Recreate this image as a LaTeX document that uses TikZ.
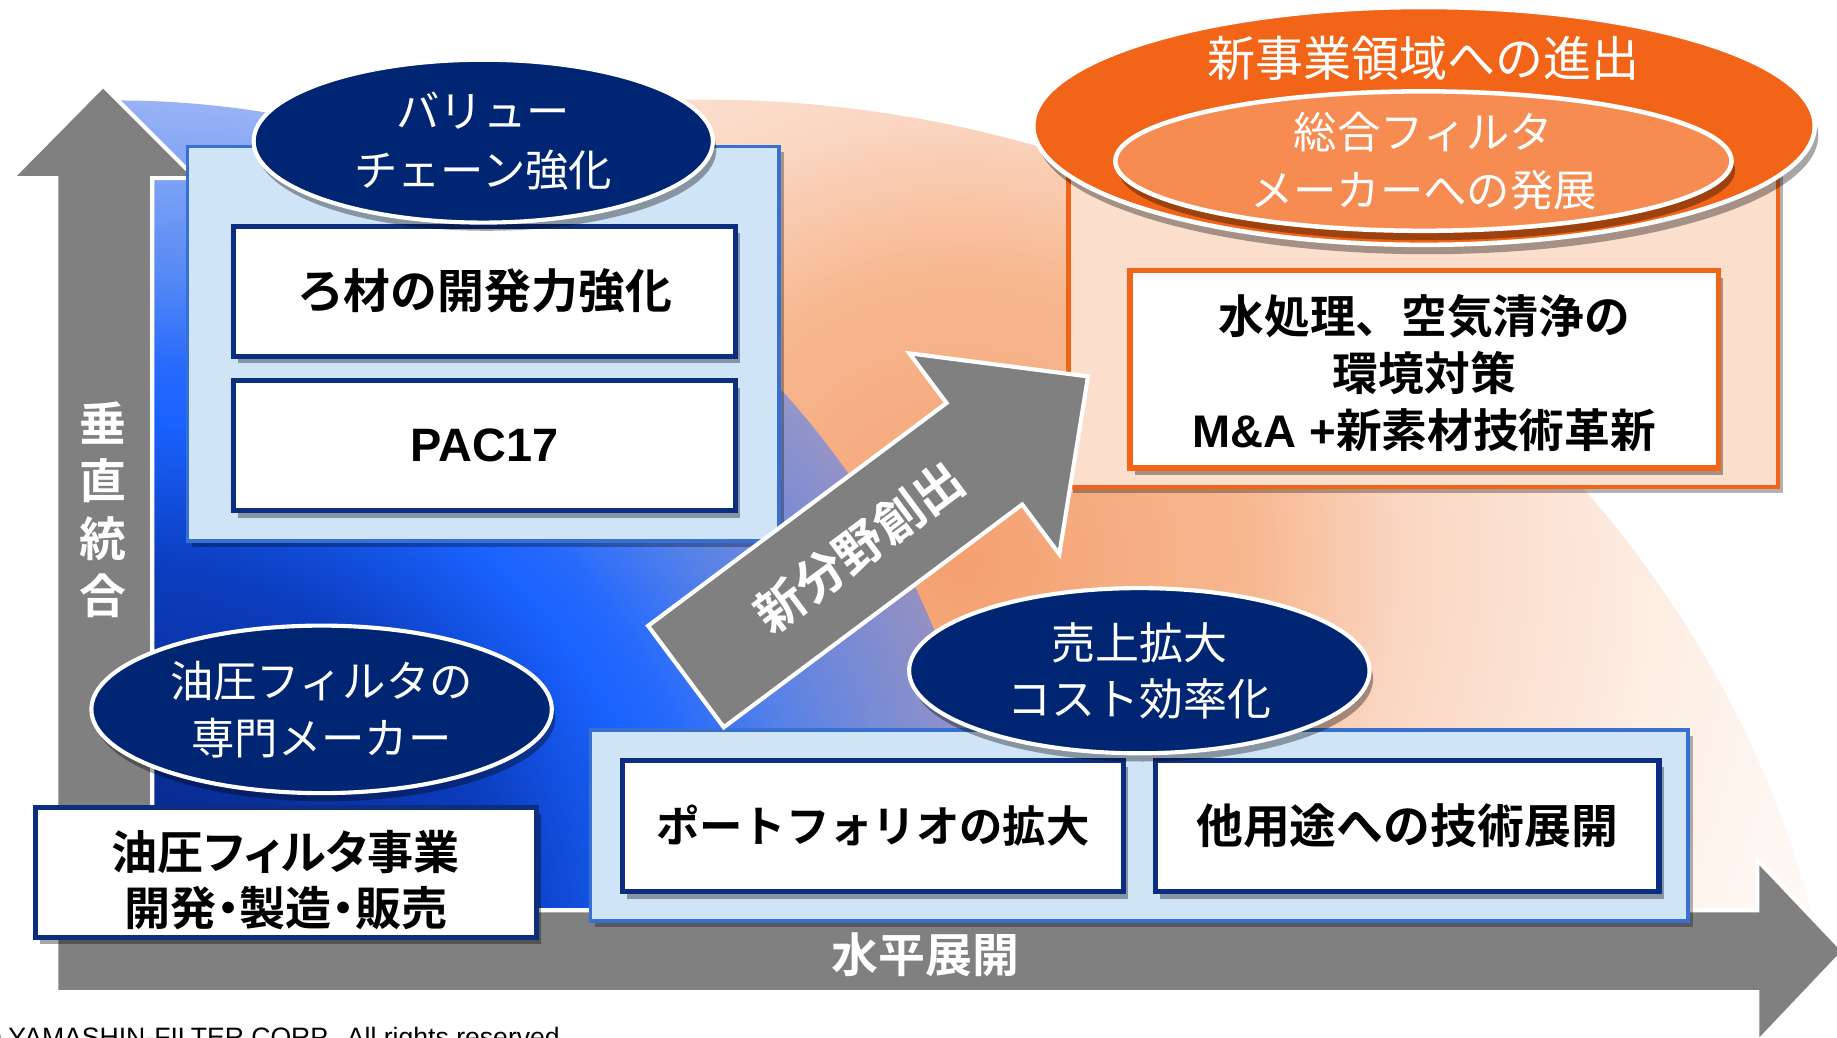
\documentclass[tikz,border=0pt]{standalone}
\usepackage{fontspec}
\setmainfont{Noto Sans CJK JP}[BoldFont={Noto Sans CJK JP Bold}]
\newfontfamily\latf{Liberation Sans}
\usetikzlibrary{shadows,fadings,shapes.geometric}
\newcommand\fsz[2]{\fontsize{#1pt}{#2pt}\selectfont}
\definecolor{navy}{RGB}{0,38,115}
\definecolor{boxnavy}{RGB}{12,46,128}
\definecolor{panelfill}{RGB}{208,228,248}
\definecolor{panelline}{RGB}{55,112,208}
\definecolor{orgA}{RGB}{242,100,24}
\definecolor{orgB}{RGB}{246,140,82}
\definecolor{peachfill}{RGB}{252,222,204}
\definecolor{orgline}{RGB}{240,100,26}
\definecolor{arrgray}{RGB}{128,128,128}
\definecolor{bq1}{RGB}{8,34,120}
\definecolor{bq2}{RGB}{11,60,188}
\definecolor{bq3}{RGB}{26,98,255}
\definecolor{bq4}{RGB}{62,122,246}
\definecolor{bq5}{RGB}{90,132,240}
\definecolor{pc1}{RGB}{244,160,112}
\definecolor{pc2}{RGB}{247,184,144}
\definecolor{pc3}{RGB}{250,214,194}
\definecolor{pc4}{RGB}{253,238,228}
\definecolor{pc5}{RGB}{254,246,241}
\pgfdeclareradialshading{blueq}{\pgfpointorigin}{color(0bp)=(bq1); color(11bp)=(bq2); color(15.5bp)=(bq3); color(20bp)=(bq4); color(25bp)=(bq5); color(50bp)=(bq5)}
\pgfdeclareradialshading{peachq}{\pgfpointorigin}{color(0bp)=(pc1); color(6.94bp)=(pc2); color(10.56bp)=(pc3); color(16.67bp)=(pc4); color(20bp)=(pc5); color(25bp)=(white); color(50bp)=(white)}
\pgfdeclareradialshading{bfadeshade}{\pgfpointorigin}{color(0bp)=(white); color(17bp)=(white); color(28.45bp)=(black!55); color(50bp)=(black!55)}
\pgfdeclarefading{bluefade}{\pgfuseshading{bfadeshade}}
\tikzset{
  panelb/.style={draw=panelline, line width=0.9pt, fill=panelfill, inner sep=0,
    drop shadow={shadow xshift=0.4mm, shadow yshift=-0.5mm, opacity=0.3, fill=black}},
  boxb/.style={draw=boxnavy, line width=1.25pt, fill=white, text=black, align=center, inner sep=0,
    drop shadow={shadow xshift=0.4mm, shadow yshift=-0.6mm, opacity=0.35, fill=black}},
  navyell/.style={ellipse, draw=white, line width=1pt, fill=navy, text=white, align=center, inner sep=0,
    drop shadow={shadow xshift=0.3mm, shadow yshift=-0.7mm, opacity=0.35, fill=black}},
  orgell/.style={ellipse, draw=white, line width=1.1pt, text=white, align=center, inner sep=0,
    drop shadow={shadow xshift=0.3mm, shadow yshift=-0.8mm, opacity=0.35, fill=black}},
  arrowshape/.style={draw=white, line width=1pt, fill=arrgray, line join=miter},
  wlabel/.style={text=white, align=center, inner sep=0},
  blabel/.style={text=black, align=center, inner sep=0}
}
\begin{document}
\begin{tikzpicture}[x=0.1mm,y=-0.1mm]
\useasboundingbox (0,0) rectangle (1568,886);
\fill[white] (0,0) rectangle (1568,886);
% peach background
\begin{scope}
  \clip (100,0) rectangle (1568,777);
  \clip (600,1000) ellipse [x radius=975, y radius=915];
  \shade[shading=peachq] (820,480) circle [radius=900];
\end{scope}
% blue background
\begin{scope}
  \clip (100,0) rectangle (1568,777);
  \shade[shading=blueq, path fading=bluefade] (100,800) ellipse [x radius=751, y radius=715];
\end{scope}
% axis arrows
\draw[arrowshape] (48,847) -- (48,152) -- (10,152) -- (88,73) -- (167,152) -- (130,152) -- (130,777)
  -- (1500,777) -- (1500,734) -- (1574,812) -- (1500,890) -- (1500,847) -- cycle;
% top-left group
\node[panelb, minimum width=50.5mm, minimum height=33.7mm] (pTL) at (412.5,293.5) {};
\node[boxb, minimum width=42.9mm, minimum height=11.1mm, font=\bfseries\fsz{11.38}{13.94}] (bRozai) at (413.5,248.5) {ろ材の開発力強化};
\node[boxb, minimum width=42.9mm, minimum height=11.1mm, font=\latf\bfseries\fsz{11.38}{13.94}] (bPAC) at (413.5,380.5) {PAC17};
\node[navyell, minimum width=39.2mm, minimum height=13.9mm, font=\fsz{10.53}{14.1}] (eValue) at (412.5,120.5) {バリュー\\チェーン強化};
% bottom-left group
\node[boxb, minimum width=42.8mm, minimum height=11.1mm] (bYuatsu) at (244,744.5) {};
\node[blabel, font=\bfseries\fsz{11.2}{13.66}\addfontfeature{RawFeature=+palt}] (tYuatsu) at (244,751) {油圧フィルタ事業\\開発・製造・販売};
\node[navyell, minimum width=39.3mm, minimum height=14.3mm, font=\fsz{10.53}{13.94}] (eYuatsu) at (274.5,605.5) {油圧フィルタの\\専門メーカー};
% bottom group
\node[panelb, minimum width=93.7mm, minimum height=16.3mm] (pBot) at (972.5,704.5) {};
\node[boxb, minimum width=42.8mm, minimum height=11.2mm, font=\bfseries\fsz{10.53}{13.94}] (bPort) at (745,705) {ポートフォリオの拡大};
\node[boxb, minimum width=43.0mm, minimum height=11.2mm, font=\bfseries\fsz{11.38}{13.94}] (bTa) at (1201,705) {他用途への技術展開};
\node[navyell, minimum width=39.3mm, minimum height=14.1mm, font=\fsz{10.67}{13.66}] (eUri) at (972.5,572.5) {売上拡大\\コスト効率化};
% top-right group
\node[draw=orgline, line width=1pt, fill=peachfill, inner sep=0, minimum width=60.6mm, minimum height=27.1mm,
  drop shadow={shadow xshift=0.4mm, shadow yshift=-0.5mm, opacity=0.3, fill=black}] (pOrg) at (1215,280.5) {};
\node[boxb, draw=orgA, minimum width=50.25mm, minimum height=16.85mm] (bMizu) at (1215.75,315.25) {};
\node[blabel, font=\bfseries\fsz{11.1}{13.94}] (tMizu) at (1215.75,318.5) {水処理、空気清浄の\\環境対策\\{\latf\bfseries M\&A +}新素材技術革新};
\node[orgell, fill=orgA, minimum width=66.7mm, minimum height=20.3mm] (eShin) at (1215.5,107.5) {};
\node[wlabel, font=\fsz{11.67}{14}] (tShin) at (1215,50) {新事業領域への進出};
\node[orgell, fill=orgB, minimum width=52.6mm, minimum height=11.5mm, font=\fsz{10.53}{14.2}] (eSogo) at (1215,137.5) {総合フィルタ\\メーカーへの発展};
% diagonal arrow
\draw[arrowshape] (553.2,534.2) -- (807.9,344.0) -- (776.2,301.6) -- (928.7,321.3) -- (904.2,473.0) -- (872.5,430.6) -- (617.8,620.8) -- cycle;
\node[wlabel, rotate=36.7, font=\bfseries\fsz{11.95}{14}] (tShinbun) at (733.7,466.9) {新分野創出};
% axis labels
\node[wlabel, font=\bfseries\fsz{11.38}{13.94}] (tSuichoku) at (88,435) {垂\\直\\統\\合};
\node[wlabel, font=\bfseries\fsz{11.38}{13.94}] (tSuihei) at (790,815) {水平展開};
% footer
\node[anchor=base west, inner sep=0, text=black, font=\latf\fsz{6.46}{8}] (tCopy) at (-16.5,893) {© YAMASHIN-FILTER CORP.\ \ All rights reserved.};
\end{tikzpicture}
\end{document}
